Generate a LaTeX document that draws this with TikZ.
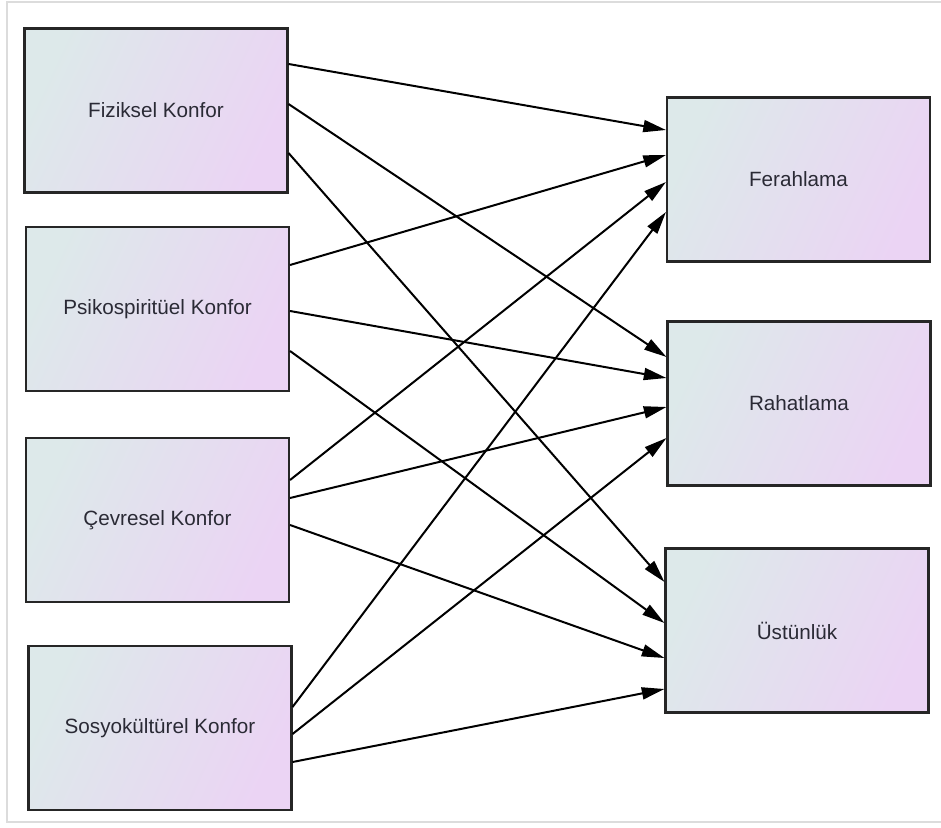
\documentclass[tikz,border=0pt]{standalone}
\usepackage{fontspec}
\setmainfont{Liberation Sans}
\usepackage{tikz}
\usetikzlibrary{arrows.meta,calc}

\definecolor{shadefrom}{HTML}{DDE9EA}
\definecolor{shadeto}{HTML}{EBD4F4}
\definecolor{framegray}{HTML}{DCDCDC}
\definecolor{labelgray}{HTML}{2A2A35}

\tikzset{
	konfor/.style={draw=black!85, line width=1.8pt,
		top color=shadefrom, bottom color=shadeto, shading angle=65,
		minimum width=197pt, minimum height=123pt, inner sep=0pt,
		text=labelgray, font=\fontsize{15.5}{18}\selectfont},
	link/.style={line width=1.5pt, black, -{Triangle[length=17pt,width=9pt]}}
}

\begin{document}
\begin{tikzpicture}[x=0.75pt,y=-0.75pt]
		\useasboundingbox (0,0) rectangle (941,827);
%		\draw[help lines,step=50] (0,0) grid (941,827);
		\path (945,2) coordinate (frame_tr);
		\path (7,2) coordinate (frame_tl);
		\path (7,822) coordinate (frame_bl);
		\path (945,822) coordinate (frame_br);
		\draw[framegray,line width=1.5pt] (frame_tr) -- (frame_tl) -- (frame_bl) -- (frame_br);

		% left column
		\path (156,110.5) coordinate (fiz);
		\path (157.5,309) coordinate (psi);
		\path (157.5,520) coordinate (cev);
		\path (160,728) coordinate (sos);
		% right column
		\path (798.5,179.5) coordinate (fer);
		\path (799,403.5) coordinate (rah);
		\path (797,630.5) coordinate (ust);

		\node[konfor] (fiziksel) at (fiz) {Fiziksel Konfor};
		\node[konfor] (psikospirituel) at (psi) {Psikospiritüel Konfor};
		\node[konfor] (cevresel) at (cev) {Çevresel Konfor};
		\node[konfor] (sosyokulturel) at (sos) {Sosyokültürel Konfor};
		\node[konfor] (ferahlama) at (fer) {Ferahlama};
		\node[konfor] (rahatlama) at (rah) {Rahatlama};
		\node[konfor] (ustunluk) at (ust) {Üstünlük};

		\foreach \src/\sdy/\dst/\ddy in {
			fiziksel/-46.5/ferahlama/-49.5, fiziksel/-6.5/rahatlama/-46.5, fiziksel/42.5/ustunluk/-48.5,
			psikospirituel/-44/ferahlama/-24.5, psikospirituel/2/rahatlama/-25.5, psikospirituel/42/ustunluk/-7.5,
			cevresel/-40/ferahlama/2.5, cevresel/-22/rahatlama/3.5, cevresel/5/ustunluk/27.5,
			sosyokulturel/-21/ferahlama/32.5, sosyokulturel/6/rahatlama/34.5, sosyokulturel/34/ustunluk/58.5}
			\draw[link] ($(\src.east)+(0,\sdy)$) -- ($(\dst.west)+(0,\ddy)$);
	\end{tikzpicture}
\end{document}
